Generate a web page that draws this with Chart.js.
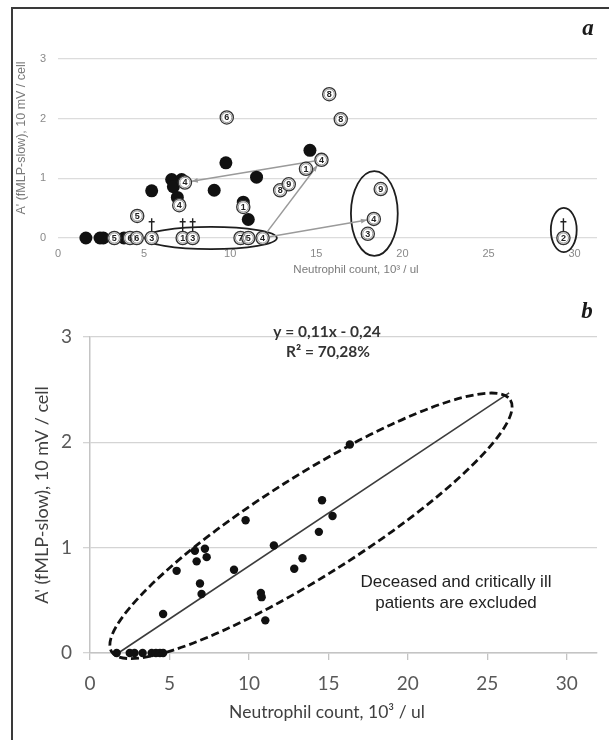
<!DOCTYPE html>
<html><head><meta charset="utf-8">
<script src="https://cdn.jsdelivr.net/npm/chart.js@4"></script>
<style>
html,body{margin:0;padding:0;background:#fff;}
#wrap{position:relative;width:613px;height:740px;overflow:hidden;background:#fff;}
canvas{position:absolute;left:0;}
#ca{top:0}
#cb{top:285px}
.bl{position:absolute;left:11px;top:7px;width:2px;height:740px;background:#3a3a3a}
.bt{position:absolute;left:11px;top:7px;width:598px;height:2px;background:#3a3a3a}
</style></head><body>
<div id="wrap">
<canvas id="ca" width="613" height="285"></canvas>
<canvas id="cb" width="613" height="455"></canvas>
<div class="bl"></div><div class="bt"></div>
</div>
<script>
// ---------- DATA ----------
const xTicks = [0, 5, 10, 15, 20, 25, 30];
const yTicks = [0, 1, 2, 3];

// Panel a: black dots
const aBlackX = [1.62, 2.44, 2.63, 3.83, 5.44, 6.6, 6.7, 7.18, 6.93, 9.07, 9.75, 10.76, 11.05, 11.53, 14.63];
const aBlackY = [0, 0, 0, 0, 0.79, 0.98, 0.86, 0.98, 0.68, 0.80, 1.26, 0.60, 0.31, 1.02, 1.47];
// Panel a: circled patient numbers
const aCircX = [3.27, 4.18, 4.57, 5.44, 4.6, 7.37, 7.04, 7.24, 7.82, 9.8, 10.76, 10.6, 11.05, 11.88, 12.9, 13.4, 14.4, 15.3, 15.75, 16.42, 18.74, 18.34, 17.99, 29.35];
const aCircY = [0, 0, 0, 0, 0.37, 0.93, 0.55, 0, 0, 2.02, 0.52, 0, 0, 0, 0.8, 0.9, 1.16, 1.31, 2.41, 1.99, 0.82, 0.32, 0.07, 0];
const aCircLabels = ['5','6','6','3','5','4','4','1','3','6','1','7','5','4','8','9','1','4','8','8','9','4','3','2'];
// Panel a: deceased marks (dagger) above these x values at y = 0
const aDaggerX = [5.44, 7.24, 7.82, 29.35];
// Panel a: arrows [x1, y1, x2, y2]
const aArrows = [[15.3, 1.31, 7.37, 0.93], [11.88, 0, 15.3, 1.31], [11.88, 0, 18.34, 0.32]];
// Panel a: ellipses [cx, cy, rx, ry] in data units
const aEllipses = [[8.88, 0, 3.83, 0.185], [18.37, 0.41, 1.36, 0.71], [29.37, 0.134, 0.75, 0.37]];

// Panel b: black dots
const bX = [1.68, 2.5, 2.8, 3.31, 3.88, 4.15, 4.4, 4.6, 4.6, 5.45, 6.6, 6.71, 7.23, 7.34, 6.92, 7.02, 9.06, 9.79, 10.75, 10.8, 11.03, 11.57, 12.85, 13.37, 14.4, 14.6, 15.26, 16.35];
const bY = [0, 0, 0, 0, 0, 0, 0, 0, 0.37, 0.78, 0.97, 0.87, 0.99, 0.91, 0.66, 0.56, 0.79, 1.26, 0.57, 0.53, 0.31, 1.02, 0.8, 0.9, 1.15, 1.45, 1.30, 1.98];
// Panel b: fitted line endpoints
const regX = [1.78, 26.37];
const regY = [0, 2.47];
// Panel b: dashed ellipse major-axis ends
const bEllX = [1.36, 26.45];
const bEllY = [0.06, 2.45];
const eqText = ['y = 0,11x - 0,24', 'R\u00B2 = 70,28%'];
const noteText = ['Deceased and critically ill', 'patients are excluded'];
const yTitle = "A' (fMLP-slow), 10 mV / cell";
const xTitle = 'Neutrophil count, 10\u00B3 / ul';

// ---------- HELPERS ----------
function txt(ctx, s, x, y, font, color, rot, align) {
  ctx.save();
  ctx.translate(x, y);
  if (rot) ctx.rotate(rot);
  ctx.font = font;
  ctx.fillStyle = color;
  ctx.textAlign = align || 'center';
  ctx.textBaseline = 'middle';
  ctx.fillText(s, 0, 0);
  ctx.restore();
}
const pts = (xs, ys) => xs.map((x, i) => ({x: x, y: ys[i]}));
const setTicks = arr => (s => { s.ticks = arr.map(v => ({value: v})); });

// ---------- PANEL A ----------
const plugA = {
  id: 'plugA',
  beforeDatasetsDraw(chart) {
    const ctx = chart.ctx, xs = chart.scales.x, ys = chart.scales.y;
    ctx.save();
    ctx.strokeStyle = '#1e1e1e'; ctx.lineWidth = 1.8;
    aEllipses.forEach(e => {
      const cx = xs.getPixelForValue(e[0]), cy = ys.getPixelForValue(e[1]);
      const rx = Math.abs(xs.getPixelForValue(e[0] + e[2]) - cx);
      const ry = Math.abs(ys.getPixelForValue(e[1] + e[3]) - cy);
      ctx.beginPath(); ctx.ellipse(cx, cy, rx, ry, 0, 0, Math.PI * 2); ctx.stroke();
    });
    ctx.strokeStyle = '#9a9a9a'; ctx.fillStyle = '#9a9a9a'; ctx.lineWidth = 1.5;
    aArrows.forEach(a => {
      let x1 = xs.getPixelForValue(a[0]), y1 = ys.getPixelForValue(a[1]);
      let x2 = xs.getPixelForValue(a[2]), y2 = ys.getPixelForValue(a[3]);
      const d = Math.hypot(x2 - x1, y2 - y1), ux = (x2 - x1) / d, uy = (y2 - y1) / d;
      x1 += ux * 7; y1 += uy * 7; x2 -= ux * 7; y2 -= uy * 7;
      ctx.beginPath(); ctx.moveTo(x1, y1); ctx.lineTo(x2, y2); ctx.stroke();
      ctx.beginPath();
      ctx.moveTo(x2, y2);
      ctx.lineTo(x2 - ux * 6 - uy * 2.5, y2 - uy * 6 + ux * 2.5);
      ctx.lineTo(x2 - ux * 6 + uy * 2.5, y2 - uy * 6 - ux * 2.5);
      ctx.closePath(); ctx.fill();
    });
    ctx.restore();
  },
  afterDatasetsDraw(chart) {
    const ctx = chart.ctx, xs = chart.scales.x, ys = chart.scales.y;
    const meta = chart.getDatasetMeta(0);
    ctx.save();
    meta.data.forEach((el, i) => {
      ctx.beginPath(); ctx.arc(el.x, el.y, 5.1, 0, Math.PI * 2);
      ctx.strokeStyle = '#777'; ctx.lineWidth = 0.8; ctx.stroke();
      txt(ctx, aCircLabels[i], el.x, el.y + 0.5, 'bold 9px "Liberation Sans"', '#222');
    });
    ctx.strokeStyle = '#222'; ctx.lineWidth = 1.4;
    aDaggerX.forEach(x => {
      const px = xs.getPixelForValue(x), py = ys.getPixelForValue(0) - 6.8;
      ctx.beginPath(); ctx.moveTo(px, py); ctx.lineTo(px, py - 13);
      ctx.moveTo(px - 3, py - 9.5); ctx.lineTo(px + 3, py - 9.5); ctx.stroke();
    });
    ctx.restore();
  },
  afterDraw(chart) {
    const ctx = chart.ctx;
    txt(ctx, yTitle, 22, 138, '12.5px "Liberation Sans"', '#7a7a7a', -Math.PI / 2);
    txt(ctx, xTitle, 356, 270, '11.5px "Liberation Sans"', '#7a7a7a');
    txt(ctx, 'a', 588, 29, 'bold italic 23px "Liberation Serif"', '#1a1a1a');
  }
};

new Chart(document.getElementById('ca'), {
  type: 'scatter',
  data: {datasets: [
    {data: pts(aCircX, aCircY), pointRadius: 6.6, pointBackgroundColor: '#fff', pointBorderColor: '#333', pointBorderWidth: 1.3, order: 0, clip: false},
    {data: pts(aBlackX, aBlackY), pointRadius: 6.5, pointBackgroundColor: '#111', pointBorderColor: '#111', pointBorderWidth: 0, order: 1, clip: false}
  ]},
  options: {
    responsive: false, animation: false, devicePixelRatio: 1,
    layout: {padding: {left: 0, right: 16, top: 59, bottom: 7}},
    plugins: {legend: {display: false}, tooltip: {enabled: false}},
    scales: {
      x: {type: 'linear', min: 0, max: 31.3, afterBuildTicks: setTicks(xTicks), afterFit: s => { s.height = 40; },
          grid: {display: false, drawTicks: false}, border: {display: false},
          ticks: {color: '#8a8a8a', font: {family: 'Liberation Sans', size: 11}, padding: 9, maxRotation: 0}},
      y: {type: 'linear', min: 0, max: 3, afterBuildTicks: setTicks(yTicks), afterFit: s => { s.width = 58; },
          grid: {color: '#dcdcdc', lineWidth: 1.3, drawTicks: false}, border: {display: false},
          ticks: {color: '#8a8a8a', font: {family: 'Liberation Sans', size: 11}, padding: 12}}
    }
  },
  plugins: [plugA]
});

// ---------- PANEL B ----------
const plugB = {
  id: 'plugB',
  afterDatasetsDraw(chart) {
    const ctx = chart.ctx, xs = chart.scales.x, ys = chart.scales.y;
    const x1 = xs.getPixelForValue(bEllX[0]), y1 = ys.getPixelForValue(bEllY[0]);
    const x2 = xs.getPixelForValue(bEllX[1]), y2 = ys.getPixelForValue(bEllY[1]);
    const cx = (x1 + x2) / 2, cy = (y1 + y2) / 2;
    const a = Math.hypot(x2 - x1, y2 - y1) / 2, ang = Math.atan2(y2 - y1, x2 - x1);
    ctx.save();
    ctx.setLineDash([8, 4]); ctx.lineWidth = 2.8; ctx.strokeStyle = '#111';
    ctx.beginPath(); ctx.ellipse(cx, cy + 5, a, 50, ang, 0, Math.PI * 2); ctx.stroke();
    ctx.restore();
  },
  afterDraw(chart) {
    const ctx = chart.ctx;
    txt(ctx, yTitle, 42, 210, '18px Lato', '#404040', -Math.PI / 2);
    txt(ctx, xTitle, 327, 427, '17.5px Lato', '#404040');
    txt(ctx, eqText[0], 327, 47, 'bold 15.5px Lato', '#333');
    txt(ctx, eqText[1], 328, 67, 'bold 15.5px Lato', '#333');
    txt(ctx, noteText[0], 456, 297, '17px "Liberation Sans"', '#222');
    txt(ctx, noteText[1], 456, 318, '17px "Liberation Sans"', '#222');
    txt(ctx, 'b', 587, 27, 'bold italic 23px "Liberation Serif"', '#1a1a1a');
  }
};

new Chart(document.getElementById('cb'), {
  type: 'scatter',
  data: {datasets: [
    {data: pts(bX, bY), pointRadius: 4.2, pointBackgroundColor: '#111', pointBorderWidth: 0, order: 0, clip: false},
    {data: pts(regX, regY), showLine: true, borderColor: '#3c3c3c', borderWidth: 1.6, pointRadius: 0, order: 1, clip: false}
  ]},
  options: {
    responsive: false, animation: false, devicePixelRatio: 1,
    layout: {padding: {left: 0, right: 16, top: 52, bottom: 27}},
    plugins: {legend: {display: false}, tooltip: {enabled: false}},
    scales: {
      x: {type: 'linear', min: 0, max: 31.9, afterBuildTicks: setTicks(xTicks), afterFit: s => { s.height = 60; },
          grid: {drawOnChartArea: false, drawTicks: true, tickLength: 7, color: '#c4c4c4', lineWidth: 1.3},
          border: {display: true, color: '#c4c4c4', width: 1.5},
          ticks: {color: '#595959', font: {family: 'Lato', size: 19}, padding: 12, maxRotation: 0}},
      y: {type: 'linear', min: 0, max: 3, afterBuildTicks: setTicks(yTicks), afterFit: s => { s.width = 90; },
          grid: {color: '#d4d4d4', lineWidth: 1.3, drawTicks: true, tickLength: 7},
          border: {display: true, color: '#c4c4c4', width: 1.5},
          ticks: {color: '#595959', font: {family: 'Lato', size: 19}, padding: 11}}
    }
  },
  plugins: [plugB]
});
</script>
</body></html>
